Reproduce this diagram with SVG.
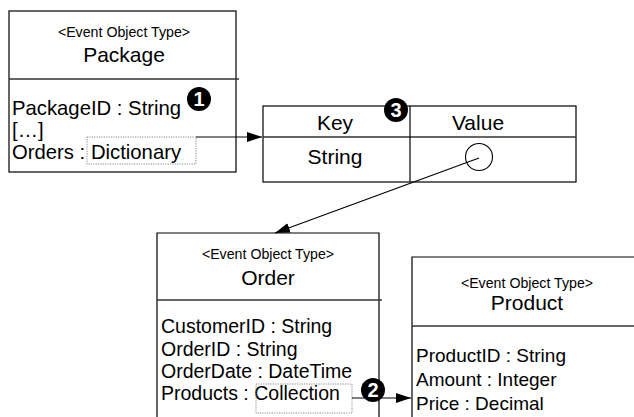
<svg xmlns="http://www.w3.org/2000/svg" width="634" height="417" viewBox="0 0 634 417">
<defs>
<style>
.box{fill:#fff;stroke:#000;stroke-width:1.2}
.div{stroke:#333;stroke-width:1.4}
.st{font-family:"Liberation Sans",Arial,sans-serif;font-size:14.2px;fill:#000;text-anchor:middle}
.ti{font-family:"Liberation Sans",Arial,sans-serif;font-size:21px;fill:#000;text-anchor:middle}
.at{font-family:"Liberation Sans",Arial,sans-serif;font-size:19.5px;fill:#000}
.cell{font-family:"Liberation Sans",Arial,sans-serif;font-size:21px;fill:#000;text-anchor:middle}
.dot{fill:none;stroke:#888;stroke-width:1;stroke-dasharray:1.2,1.2}
.conn{fill:none;stroke:#000;stroke-width:1.2}
.badge circle{fill:#000}
.badge text{font-family:"Liberation Sans",Arial,sans-serif;font-size:20px;font-weight:bold;fill:#fff;text-anchor:middle}
</style>
<marker id="arr" markerWidth="15" markerHeight="10" refX="15" refY="5" orient="auto" markerUnits="userSpaceOnUse">
<path d="M0,0 L15,5 L0,10 Z" fill="#000"/>
</marker>
</defs>
<rect width="634" height="417" fill="#fff"/>

<g id="package">
<rect class="box" x="9" y="11" width="227" height="161"/>
<line class="div" x1="9" y1="79" x2="239" y2="79"/>
<text class="st" x="124" y="37">&lt;Event Object Type&gt;</text>
<text class="ti" x="124" y="62">Package</text>
<text class="at" x="12" y="115" style="font-size:20.3px">PackageID : String</text>
<text class="at" x="12" y="137" style="font-size:20.3px">[…]</text>
<text class="at" x="12" y="159" style="font-size:20.3px">Orders : Dictionary</text>
<rect class="dot" x="87" y="137" width="109" height="27"/>
</g>

<g id="dictionary">
<rect class="box" x="263" y="106" width="313" height="76"/>
<line class="div" x1="263" y1="137" x2="576" y2="137"/>
<line class="box" x1="410" y1="106" x2="410" y2="182"/>
<text class="cell" x="335" y="130">Key</text>
<text class="cell" x="478" y="130">Value</text>
<text class="cell" x="335" y="164">String</text>
<circle cx="479" cy="157" r="13.5" fill="none" stroke="#000" stroke-width="1.1"/>
</g>

<g id="order">
<path class="box" d="M157,418 L157,233 L379,233 L379,418"/>
<line class="div" x1="157" y1="300" x2="382" y2="300"/>
<text class="st" x="268" y="259">&lt;Event Object Type&gt;</text>
<text class="ti" x="268" y="285">Order</text>
<text class="at" x="161" y="333">CustomerID : String</text>
<text class="at" x="161" y="356">OrderID : String</text>
<text class="at" x="161" y="378">OrderDate : DateTime</text>
<text class="at" x="161" y="400">Products : Collection</text>
<rect class="dot" x="256" y="384" width="96" height="29"/>
</g>

<g id="product">
<path class="box" d="M635,257 L412,257 L412,418"/>
<line class="div" x1="412" y1="326" x2="634" y2="326"/>
<text class="st" x="527" y="288">&lt;Event Object Type&gt;</text>
<text class="ti" x="527" y="310">Product</text>
<text class="at" x="416" y="362" style="font-size:19px">ProductID : String</text>
<text class="at" x="416" y="386" style="font-size:19px">Amount : Integer</text>
<text class="at" x="416" y="410" style="font-size:19px">Price : Decimal</text>
</g>

<g id="connectors">
<line class="conn" x1="196" y1="137" x2="262" y2="137" marker-end="url(#arr)"/>
<line class="conn" x1="479" y1="158" x2="275" y2="233" marker-end="url(#arr)"/>
<line class="conn" x1="352" y1="398" x2="411" y2="398" marker-end="url(#arr)"/>
</g>

<g id="badge1" class="badge">
<circle cx="199" cy="99" r="12"/>
<text x="199" y="106">1</text>
</g>
<g id="badge3" class="badge">
<circle cx="396" cy="110" r="12"/>
<text x="396" y="117">3</text>
</g>
<g id="badge2" class="badge">
<circle cx="373" cy="390" r="12"/>
<text x="373" y="397">2</text>
</g>
</svg>
